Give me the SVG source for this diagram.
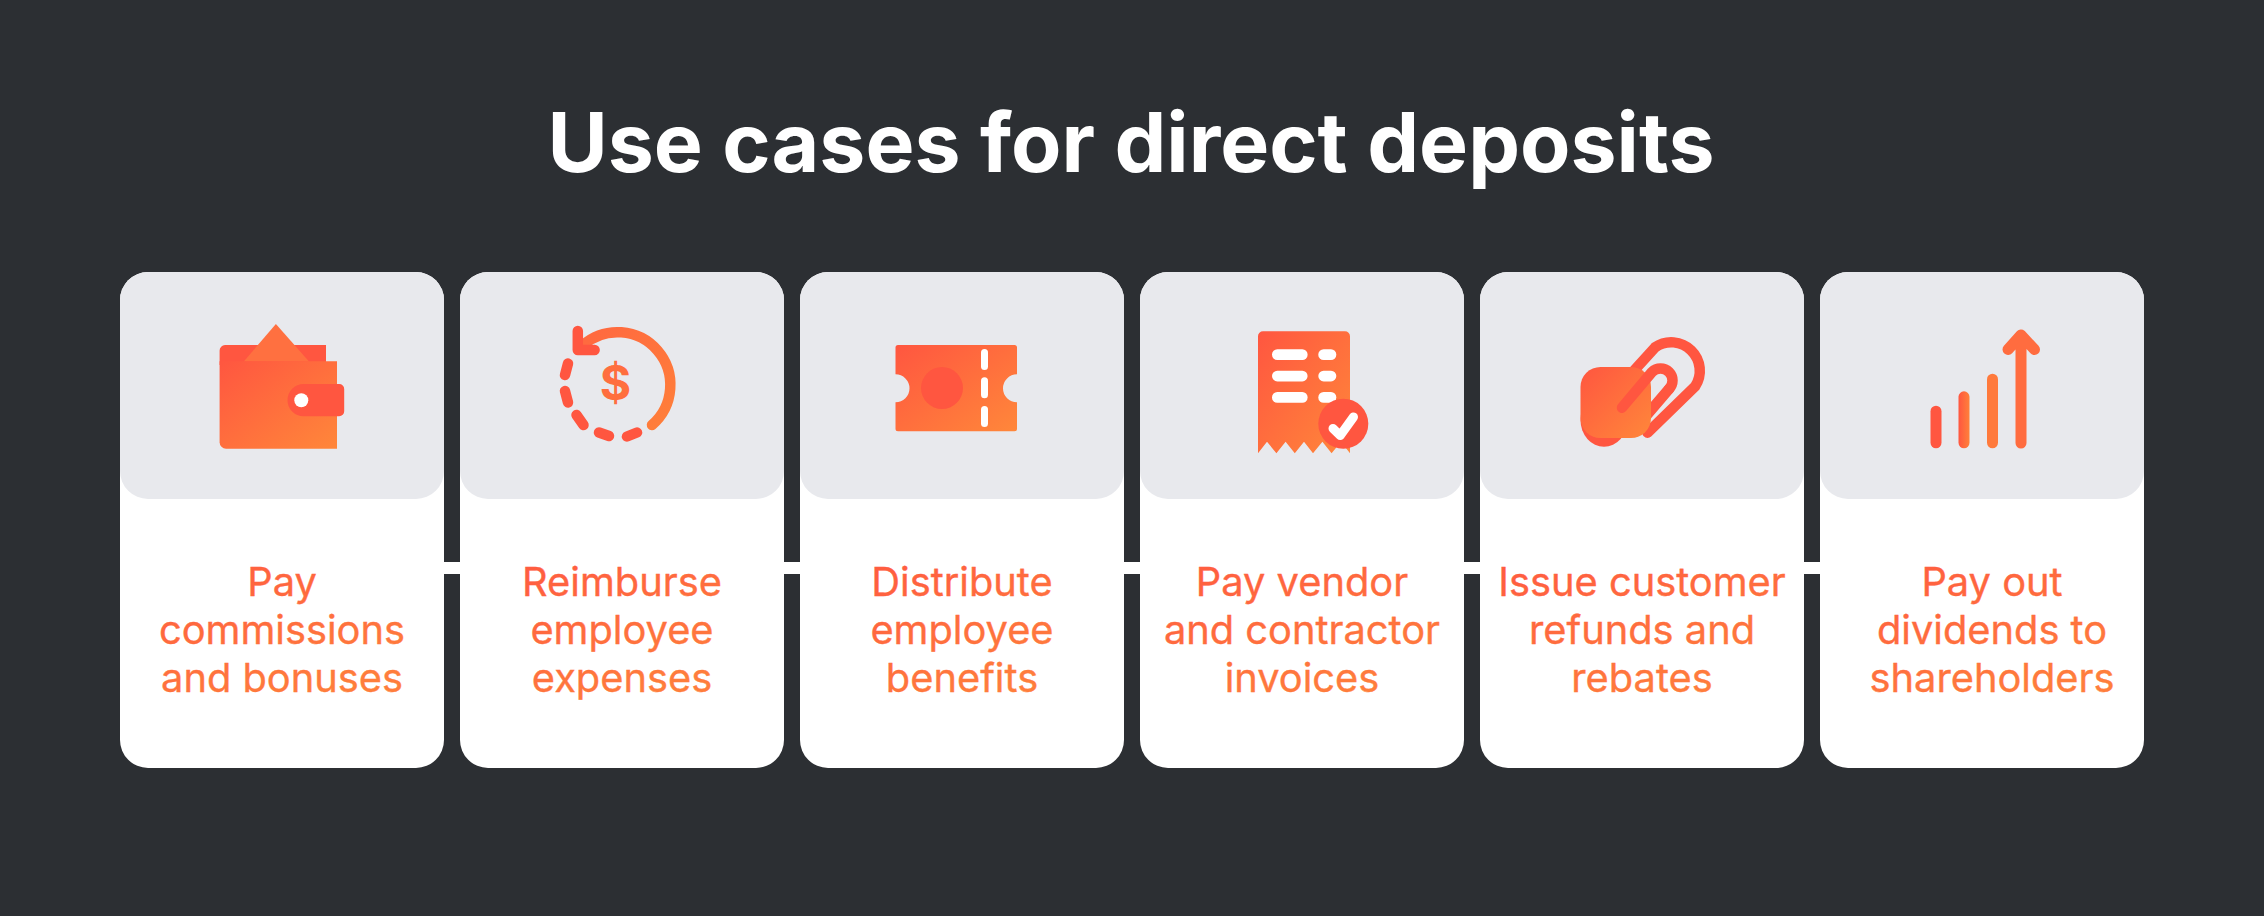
<svg xmlns="http://www.w3.org/2000/svg" width="2264" height="916" viewBox="0 0 2264 916">
<defs>
<linearGradient id="g" x1="0" y1="0" x2="1" y2="1"><stop offset="0" stop-color="#FF5640"/><stop offset="1" stop-color="#FF873A"/></linearGradient>
<linearGradient id="gt" x1="0" y1="0" x2="0.6" y2="1"><stop offset="0" stop-color="#FF5A40"/><stop offset="1" stop-color="#FF7E3C"/></linearGradient>
<linearGradient id="gh" x1="0" y1="0" x2="1" y2="0"><stop offset="0" stop-color="#FF5640"/><stop offset="1" stop-color="#FF803A"/></linearGradient>
<linearGradient id="garc" gradientUnits="userSpaceOnUse" x1="590" y1="340" x2="670" y2="420"><stop offset="0" stop-color="#FF6A3F"/><stop offset="1" stop-color="#FF7E3A"/></linearGradient>
</defs>
<style>
.card{fill:#fff}
.head{fill:#E8E9ED}
.label{font-family:Inter,"Liberation Sans",sans-serif;font-size:39.8px;font-weight:400;stroke:url(#gt);stroke-width:0.35px;text-anchor:middle;fill:url(#gt)}
.title{font-family:Inter,"Liberation Sans",sans-serif;font-size:82.3px;font-weight:700;text-anchor:middle;fill:#fff}
.red{fill:#FF5640}
.wh{fill:#fff}
.rs{fill:none;stroke:#FF5640;stroke-width:10.5;stroke-linecap:round;stroke-linejoin:round}
.conn{stroke:#fff;stroke-width:12}
</style>
<rect width="2264" height="916" fill="#2C2F33"/>
<text id="title" class="title" x="1131" y="172">Use cases for direct deposits</text>
<g id="connectors">
<line class="conn" x1="444" y1="568" x2="460" y2="568"/>
<line class="conn" x1="784" y1="568" x2="800" y2="568"/>
<line class="conn" x1="1124" y1="568" x2="1140" y2="568"/>
<line class="conn" x1="1464" y1="568" x2="1480" y2="568"/>
<line class="conn" x1="1804" y1="568" x2="1820" y2="568"/>
</g>
<g id="node-1">
<rect class="card" x="120" y="272" width="324" height="496" rx="28"/>
<rect class="head" x="120" y="272" width="324" height="227" rx="28"/>
<path class="red" d="M225 345H326V365H219.6V350.5A5.5 5.5 0 0 1 225 345Z"/>
<path fill="#FF7040" d="M275.9 324L309 361.5H243.8Z"/>
<path fill="url(#g)" d="M219.6 361.3H337V448.7H226A6.4 6.4 0 0 1 219.6 442.3Z"/>
<path class="red" d="M303.5 384H339.2A5 5 0 0 1 344.2 389V411.3A5 5 0 0 1 339.2 416.3H303.5A16 16 0 0 1 287.5 400.2A16 16 0 0 1 303.5 384Z"/>
<circle class="wh" cx="301.3" cy="400.2" r="7"/>
<text class="label" x="282"><tspan x="282" y="596">Pay</tspan><tspan x="282" y="644">commissions</tspan><tspan x="282" y="692">and bonuses</tspan></text>
</g>
<g id="node-2">
<rect class="card" x="460" y="272" width="324" height="496" rx="28"/>
<rect class="head" x="460" y="272" width="324" height="227" rx="28"/>
<path fill="none" stroke="url(#garc)" stroke-width="10.5" stroke-linecap="round" d="M652 425A52.5 52.5 0 1 0 583 345"/>
<path class="rs" d="M577.8 331V350H594.6"/>
<path class="rs" d="M568 363.5L565 375M565 391L568 402.5M576.5 415L583.5 425M599 432.5L609 436M627 436.5L637 432.5"/>
<text x="615.5" y="400" font-family="Inter,'Liberation Sans',sans-serif" font-size="48" font-weight="700" text-anchor="middle" fill="#FF6E3E">$</text>
<text class="label" x="622"><tspan x="622" y="596">Reimburse</tspan><tspan x="622" y="644">employee</tspan><tspan x="622" y="692">expenses</tspan></text>
</g>
<g id="node-3">
<rect class="card" x="800" y="272" width="324" height="496" rx="28"/>
<rect class="head" x="800" y="272" width="324" height="227" rx="28"/>
<path fill="url(#g)" d="M898 345H1014.5A2.5 2.5 0 0 1 1017 347.5V374.3A14 14 0 0 0 1017 402.3V428.8A2.5 2.5 0 0 1 1014.5 431.3H898A2.5 2.5 0 0 1 895.5 428.8V402.3A14 14 0 0 0 895.5 374.3V347.5A2.5 2.5 0 0 1 898 345Z"/>
<circle class="red" cx="942" cy="388" r="21"/>
<rect class="wh" x="981" y="349" width="7" height="21" rx="3.5"/>
<rect class="wh" x="981" y="377.3" width="7" height="21" rx="3.5"/>
<rect class="wh" x="981" y="406" width="7" height="21" rx="3.5"/>
<text class="label" x="962"><tspan x="962" y="596">Distribute</tspan><tspan x="962" y="644">employee</tspan><tspan x="962" y="692">benefits</tspan></text>
</g>
<g id="node-4">
<rect class="card" x="1140" y="272" width="324" height="496" rx="28"/>
<rect class="head" x="1140" y="272" width="324" height="227" rx="28"/>
<path fill="url(#g)" d="M1263 331.3H1345A5 5 0 0 1 1350 336.3V453.3L1341 441.7L1331.6 453.3L1322.4 441.7L1313 453.3L1304 441.7L1294.8 453.3L1285.6 441.7L1276.4 453.3L1267 441.7L1258 453.3V336.3A5 5 0 0 1 1263 331.3Z"/>
<rect class="wh" x="1272" y="349.3" width="35.6" height="10.7" rx="5.3"/>
<rect class="wh" x="1272" y="370.7" width="35.6" height="10.7" rx="5.3"/>
<rect class="wh" x="1272" y="392" width="35.6" height="10.7" rx="5.3"/>
<rect class="wh" x="1318.3" y="349.3" width="18" height="10.7" rx="5.3"/>
<rect class="wh" x="1318.3" y="370.7" width="18" height="10.7" rx="5.3"/>
<rect class="wh" x="1318.3" y="392" width="18" height="10.7" rx="5.3"/>
<circle class="red" cx="1343.3" cy="423.7" r="25"/>
<path fill="none" stroke="#fff" stroke-width="9" stroke-linecap="round" stroke-linejoin="round" d="M1333 428.5L1340.2 435.5L1353.5 417"/>
<text class="label" x="1302"><tspan x="1302" y="596">Pay vendor</tspan><tspan x="1302" y="644">and contractor</tspan><tspan x="1302" y="692">invoices</tspan></text>
</g>
<g id="node-5">
<rect class="card" x="1480" y="272" width="324" height="496" rx="28"/>
<rect class="head" x="1480" y="272" width="324" height="227" rx="28"/>
<ellipse class="red" cx="1604" cy="420" rx="23.5" ry="26.7"/>
<path class="rs" d="M1647.5 432.7L1695 386.6A28.5 28.5 0 0 0 1655 347.4L1630 375"/>
<path class="rs" d="M1669 389L1640 423"/>
<rect x="1580.5" y="367" width="70.5" height="71" rx="20" fill="url(#g)"/>
<path class="rs" d="M1622 407.7L1652 372A12 12 0 0 1 1669 389"/>
<text class="label" x="1642"><tspan x="1642" y="596">Issue customer</tspan><tspan x="1642" y="644">refunds and</tspan><tspan x="1642" y="692">rebates</tspan></text>
</g>
<g id="node-6">
<rect class="card" x="1820" y="272" width="324" height="496" rx="28"/>
<rect class="head" x="1820" y="272" width="324" height="227" rx="28"/>
<rect x="1930.5" y="405.7" width="11" height="42.6" rx="5.5" fill="#FF5640"/>
<rect x="1958.5" y="391.3" width="11" height="57" rx="5.5" fill="url(#gh)"/>
<rect x="1987" y="373.7" width="11" height="74.6" rx="5.5" fill="#FF7A3C"/>
<path fill="none" stroke="#FF6C3F" stroke-width="11" stroke-linecap="round" stroke-linejoin="round" d="M2021 443V335M2008 349.5L2021 335L2034.5 349.5"/>
<text class="label" x="1992"><tspan x="1992" y="596">Pay out</tspan><tspan x="1992" y="644">dividends to</tspan><tspan x="1992" y="692">shareholders</tspan></text>
</g>
</svg>
